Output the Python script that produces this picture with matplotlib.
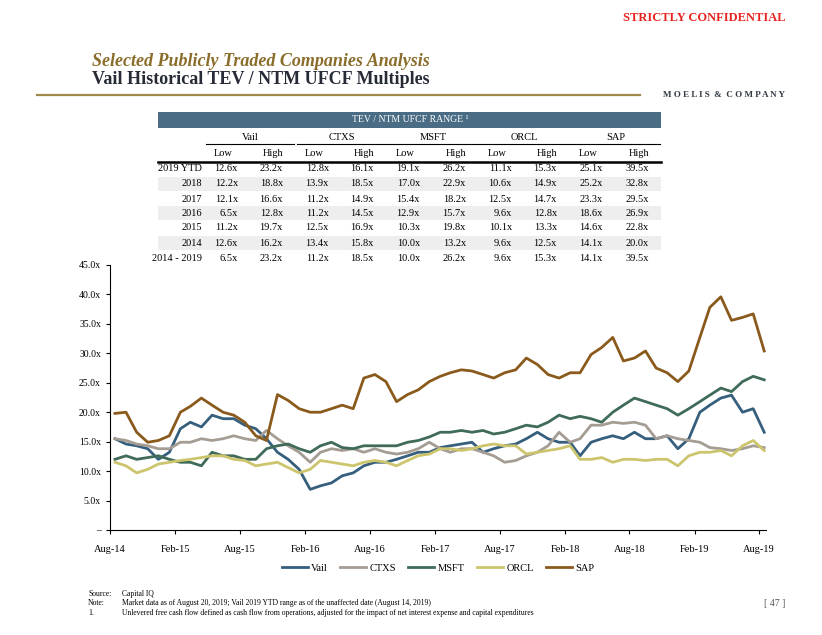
import numpy as np
import pandas as pd
import matplotlib
matplotlib.use("Agg")
import matplotlib.pyplot as plt
from matplotlib.patches import Rectangle
from matplotlib.lines import Line2D

# ── data (monthly readings, Aug-14 .. Aug-19) ────────────────────────────────
dates = pd.date_range("2014-08-01", periods=61, freq="MS") + pd.Timedelta(days=14)

vail = [15.5, 14.6, 14.3, 13.8, 12.0,
        13.2, 17.2, 18.3, 17.5, 19.5, 18.9, 18.9, 17.8, 17.2, 15.5, 13.2, 12.0,
        10.3, 6.9, 7.5, 8.0, 9.2, 9.7, 10.9, 11.5, 11.5, 12.0, 12.6, 13.2,
        13.2, 14.0, 14.3, 14.6, 14.9, 13.2, 13.8, 14.3, 14.6, 15.5, 16.6, 15.5,
        14.9, 14.9, 12.6, 14.9, 15.5, 16.0, 15.5, 16.6, 15.5, 15.5, 16.0, 13.8,
        15.5, 20.0, 21.2, 22.4, 22.9, 20.0, 20.6, 16.6]
ctxs = [15.5, 15.2, 14.6, 14.3, 13.8,
        13.8, 14.9, 14.9, 15.5, 15.2, 15.5, 16.0, 15.5, 15.2, 16.9, 15.5, 14.3,
        13.2, 11.5, 13.2, 13.8, 13.5, 13.8, 13.2, 13.8, 13.2, 12.9, 13.2, 13.8,
        14.9, 13.8, 13.2, 13.8, 13.8, 13.2, 12.6, 11.5, 11.8, 12.6, 13.2, 14.3,
        16.6, 14.9, 15.5, 17.8, 17.8, 18.3, 18.1, 18.3, 17.8, 15.5, 16.0, 15.5,
        15.2, 14.9, 14.0, 13.8, 13.5, 13.8, 14.3, 14.0]
msft = [12.0, 12.6, 12.0, 12.3, 12.6,
        12.0, 11.5, 11.5, 10.9, 13.2, 12.6, 12.6, 12.0, 12.0, 13.8, 14.3, 14.6,
        13.8, 13.2, 14.3, 14.9, 14.0, 13.8, 14.3, 14.3, 14.3, 14.3, 14.9, 15.2,
        15.8, 16.6, 16.6, 16.9, 16.6, 16.9, 16.3, 16.6, 17.2, 17.8, 17.5, 18.3,
        19.5, 18.9, 19.3, 18.9, 18.3, 20.0, 21.2, 22.4, 21.8, 21.2, 20.6, 19.5,
        20.6, 21.8, 22.9, 24.1, 23.5, 25.2, 26.1, 25.5]
orcl = [11.5, 10.9, 9.7, 10.3, 11.2,
        11.5, 11.8, 12.0, 12.3, 12.6, 12.6, 12.0, 11.8, 10.9, 11.2, 11.5, 10.6,
        9.7, 10.3, 11.8, 11.5, 11.2, 10.9, 11.5, 11.8, 11.5, 10.9, 11.8, 12.6,
        12.9, 13.8, 13.8, 13.5, 13.8, 14.3, 14.6, 14.3, 14.3, 12.9, 13.2, 13.5,
        13.8, 14.3, 12.0, 12.0, 12.3, 11.5, 12.0, 12.0, 11.8, 12.0, 12.0, 10.9,
        12.6, 13.2, 13.2, 13.5, 12.6, 14.3, 15.2, 13.5]
sap = [19.8, 20.0, 16.6, 14.9, 15.2,
       16.0, 20.0, 21.0, 22.4, 21.2, 20.0, 19.5, 18.3, 16.0, 15.2, 23.0, 22.0,
       20.6, 20.0, 20.0, 20.6, 21.2, 20.6, 25.8, 26.4, 25.2, 21.8, 23.0, 23.8,
       25.2, 26.1, 26.7, 27.2, 27.0, 26.4, 25.8, 26.7, 27.2, 29.2, 28.1, 26.4,
       25.8, 26.7, 26.7, 29.8, 31.0, 32.7, 28.7, 29.2, 30.4, 27.5, 26.7, 25.2,
       27.0, 32.7, 37.8, 39.6, 35.6, 36.1, 36.7, 30.4]

companies = ["Vail", "CTXS", "MSFT", "ORCL", "SAP"]
colors = ["#355f7d", "#a59d94", "#3f6b58", "#cdc56e", "#8a5a1c"]

row_labels = ["2019 YTD", "2018", "2017", "2016", "2015", "2014", "2014 - 2019"]
table_vals = [
    ["12.6x", "23.2x", "12.8x", "16.1x", "19.1x", "26.2x", "11.1x", "15.3x", "25.1x", "39.5x"],
    ["12.2x", "18.8x", "13.9x", "18.5x", "17.0x", "22.9x", "10.6x", "14.9x", "25.2x", "32.8x"],
    ["12.1x", "16.6x", "11.2x", "14.9x", "15.4x", "18.2x", "12.5x", "14.7x", "23.3x", "29.5x"],
    ["6.5x", "12.8x", "11.2x", "14.5x", "12.9x", "15.7x", "9.6x", "12.8x", "18.6x", "26.9x"],
    ["11.2x", "19.7x", "12.5x", "16.9x", "10.3x", "19.8x", "10.1x", "13.3x", "14.6x", "22.8x"],
    ["12.6x", "16.2x", "13.4x", "15.8x", "10.0x", "13.2x", "9.6x", "12.5x", "14.1x", "20.0x"],
    ["6.5x", "23.2x", "11.2x", "18.5x", "10.0x", "26.2x", "9.6x", "15.3x", "14.1x", "39.5x"],
]

yticks = [0, 5, 10, 15, 20, 25, 30, 35, 40, 45]
xtick_dates = pd.date_range("2014-08-01", "2019-08-01", freq="6MS")

# ─────────────────────────────────────────────────────────────────────────────
W, H = 822, 635
plt.rcParams["font.family"] = "Liberation Serif"
fig = plt.figure(figsize=(W / 100, H / 100), dpi=100)

def fx(px): return px / W
def fy(py): return 1 - py / H

# header
fig.text(fx(785), fy(18), "STRICTLY CONFIDENTIAL", color="#e8231f", fontsize=9,
         fontweight="bold", ha="right", va="center")
fig.text(fx(92), fy(62), "Selected Publicly Traded Companies Analysis", color="#8a6d2b",
         fontsize=13, fontweight="bold", style="italic", ha="left", va="center")
fig.text(fx(92), fy(80), "Vail Historical TEV / NTM UFCF Multiples", color="#262b36",
         fontsize=13, fontweight="bold", ha="left", va="center")
fig.add_artist(Line2D([fx(37), fx(640)], [fy(95), fy(95)], color="#a08a4a", lw=1.6))
fig.text(fx(785), fy(95), "M O E L I S  &  C O M P A N Y", color="#333a45", fontsize=6.5,
         fontweight="bold", ha="right", va="center")

# table
fig.add_artist(Rectangle((fx(158), fy(128)), fx(661) - fx(158), fy(112) - fy(128),
                         transform=fig.transFigure, color="#4a6d85", lw=0))
fig.text(fx(410), fy(120), "TEV / NTM UFCF RANGE ¹", color="white", fontsize=7, ha="center", va="center")
group_c = [250, 342, 433, 524, 616]
group_span = [(206, 294), (297, 387), (388, 479), (480, 570), (571, 660)]
low_r = [238, 329, 420, 512, 603]
high_r = [283, 374, 466, 557, 649]
for name, c, (a, b), lr, hr in zip(companies, group_c, group_span, low_r, high_r):
    fig.text(fx(c), fy(138), name, fontsize=7.5, ha="center", va="center")
    fig.add_artist(Line2D([fx(a), fx(b)], [fy(144), fy(144)], color="black", lw=0.8))
    fig.text(fx(lr - 5), fy(153), "Low", fontsize=7.5, ha="right", va="center")
    fig.text(fx(hr), fy(153), "High", fontsize=7.5, ha="right", va="center")
fig.add_artist(Line2D([fx(158), fx(661)], [fy(162), fy(162)], color="black", lw=1.8))
row_y = [169, 184, 199, 213, 228, 243, 258]
for i, (lab, vals, ry) in enumerate(zip(row_labels, table_vals, row_y)):
    if i in (1, 3, 5):
        fig.add_artist(Rectangle((fx(158), fy(ry + 7)), fx(661) - fx(158), fy(ry - 7) - fy(ry + 7),
                                 transform=fig.transFigure, color="#eeeeee", lw=0, zorder=0))
    fig.text(fx(202), fy(ry), lab, fontsize=7.5, ha="right", va="center")
    for j, v in enumerate(vals):
        xr = low_r[j // 2] if j % 2 == 0 else high_r[j // 2]
        fig.text(fx(xr), fy(ry), v, fontsize=7.5, ha="right", va="center")

# chart
ax = fig.add_axes([fx(110), fy(530), fx(766) - fx(110), fy(265) - fy(530)])
for name, s, c in zip(companies, [vail, ctxs, msft, orcl, sap], colors):
    ax.plot(dates, s, color=c, lw=2.0, label=name)
ax.set_ylim(0, 45)
ax.set_xlim(pd.Timestamp("2014-08-01"), pd.Timestamp("2019-08-20"))
ax.set_yticks(yticks)
ax.set_yticklabels(["–"] + [f"{v:.1f}x" for v in yticks[1:]], fontsize=7)
ax.set_xticks(xtick_dates)
ax.set_xticklabels([d.strftime("%b-%y") for d in xtick_dates], fontsize=7.5)
ax.tick_params(axis="both", length=3, width=0.8)
ax.tick_params(axis="x", pad=8)
for side in ("top", "right"):
    ax.spines[side].set_visible(False)
ax.legend(loc="upper center", bbox_to_anchor=(0.5, -0.09), ncol=5, frameon=False,
          fontsize=7.5, handlelength=2.5, columnspacing=1.2, handletextpad=0.3)

# footer
foot = [("Source:", "Capital IQ", 594),
        ("Note:", "Market data as of August 20, 2019; Vail 2019 YTD range as of the unaffected date (August 14, 2019)", 603),
        ("1.", "Unlevered free cash flow defined as cash flow from operations, adjusted for the impact of net interest expense and capital expenditures", 613)]
for a, b, y in foot:
    fig.text(fx(88), fy(y), a, fontsize=5.5, va="center")
    fig.text(fx(122), fy(y), b, fontsize=5.5, va="center")
fig.text(fx(785), fy(603), "[ 47 ]", fontsize=7, ha="right", va="center", color="#555555")

fig.savefig("out.png", dpi=100)
